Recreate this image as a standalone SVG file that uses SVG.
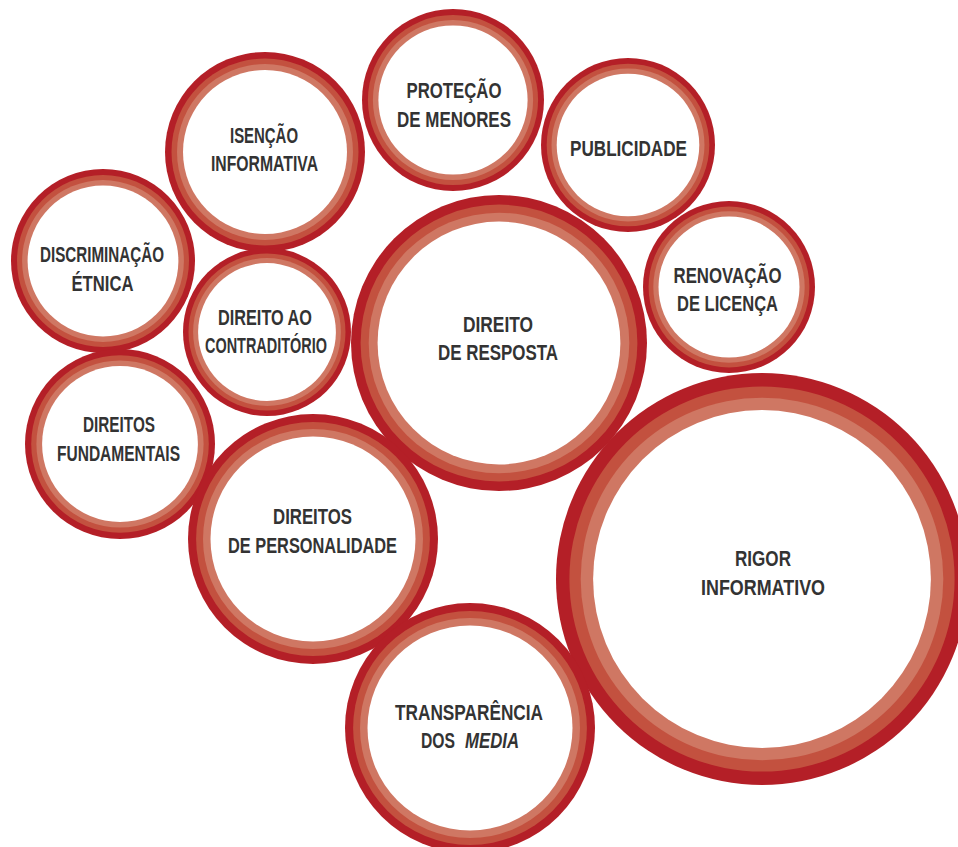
<svg xmlns="http://www.w3.org/2000/svg" width="958" height="847" viewBox="0 0 958 847">
  <style>
    .b1 { fill: #b41f27; }
    .b2 { fill: #c3513f; }
    .b3 { fill: #cf7763; }
    .in { fill: #ffffff; }
    text { font-family: "Liberation Sans Narrow", "Liberation Sans", Arial, sans-serif; font-weight: bold; font-size: 22px; fill: #333333; text-anchor: middle; }
    .st { text-anchor: start; }
    .it { font-style: italic; }
  </style>
  <rect width="958" height="847" fill="#ffffff"/>

  <!-- Each topic: three concentric bands around a white disc -->
  <g id="protecao-de-menores">
    <circle class="b1" cx="453" cy="100" r="91"/>
    <circle class="b2" cx="453" cy="100" r="85.1"/>
    <circle class="b3" cx="453" cy="100" r="80.1"/>
    <circle class="in" cx="453" cy="100" r="74.6"/>
    <text x="454" y="98" textLength="95" lengthAdjust="spacingAndGlyphs">PROTEÇÃO</text>
    <text x="454" y="127" textLength="114" lengthAdjust="spacingAndGlyphs">DE MENORES</text>
  </g>

  <g id="isencao-informativa">
    <circle class="b1" cx="265" cy="152" r="100"/>
    <circle class="b2" cx="265" cy="152" r="93.5"/>
    <circle class="b3" cx="265" cy="152" r="88"/>
    <circle class="in" cx="265" cy="152" r="82"/>
    <text x="264" y="143" textLength="68" lengthAdjust="spacingAndGlyphs">ISENÇÃO</text>
    <text x="264.5" y="171" textLength="107" lengthAdjust="spacingAndGlyphs">INFORMATIVA</text>
  </g>

  <g id="publicidade">
    <circle class="b1" cx="628" cy="145" r="87"/>
    <circle class="b2" cx="628" cy="145" r="81.3"/>
    <circle class="b3" cx="628" cy="145" r="76.5"/>
    <circle class="in" cx="628" cy="145" r="71.3"/>
    <text x="628.5" y="156" textLength="117" lengthAdjust="spacingAndGlyphs">PUBLICIDADE</text>
  </g>

  <g id="discriminacao-etnica">
    <circle class="b1" cx="103" cy="261" r="92"/>
    <circle class="b2" cx="103" cy="261" r="86"/>
    <circle class="b3" cx="103" cy="261" r="80.9"/>
    <circle class="in" cx="103" cy="261" r="75.4"/>
    <text x="102" y="262" textLength="124" lengthAdjust="spacingAndGlyphs">DISCRIMINAÇÃO</text>
    <text x="102.5" y="291" textLength="62" lengthAdjust="spacingAndGlyphs">ÉTNICA</text>
  </g>

  <g id="renovacao-de-licenca">
    <circle class="b1" cx="729" cy="287" r="86"/>
    <circle class="b2" cx="729" cy="287" r="80.4"/>
    <circle class="b3" cx="729" cy="287" r="75.7"/>
    <circle class="in" cx="729" cy="287" r="70.5"/>
    <text x="727.5" y="283" textLength="108" lengthAdjust="spacingAndGlyphs">RENOVAÇÃO</text>
    <text x="727.5" y="311" textLength="101" lengthAdjust="spacingAndGlyphs">DE LICENÇA</text>
  </g>

  <g id="direito-ao-contraditorio">
    <circle class="b1" cx="267" cy="332" r="84"/>
    <circle class="b2" cx="267" cy="332" r="78.5"/>
    <circle class="b3" cx="267" cy="332" r="73.9"/>
    <circle class="in" cx="267" cy="332" r="68.9"/>
    <text x="265" y="325" textLength="94" lengthAdjust="spacingAndGlyphs">DIREITO AO</text>
    <text x="266" y="353" textLength="122" lengthAdjust="spacingAndGlyphs">CONTRADITÓRIO</text>
  </g>

  <g id="direito-de-resposta">
    <circle class="b1" cx="499" cy="343" r="148"/>
    <circle class="b2" cx="499" cy="343" r="138.4"/>
    <circle class="b3" cx="499" cy="343" r="130.3"/>
    <circle class="in" cx="499" cy="343" r="121.4"/>
    <text x="498" y="332" textLength="70" lengthAdjust="spacingAndGlyphs">DIREITO</text>
    <text x="498" y="360" textLength="120" lengthAdjust="spacingAndGlyphs">DE RESPOSTA</text>
  </g>

  <g id="direitos-fundamentais">
    <circle class="b1" cx="120" cy="444" r="95"/>
    <circle class="b2" cx="120" cy="444" r="88.8"/>
    <circle class="b3" cx="120" cy="444" r="83.6"/>
    <circle class="in" cx="120" cy="444" r="77.9"/>
    <text x="119" y="432" textLength="72" lengthAdjust="spacingAndGlyphs">DIREITOS</text>
    <text x="118.5" y="461" textLength="123" lengthAdjust="spacingAndGlyphs">FUNDAMENTAIS</text>
  </g>

  <g id="direitos-de-personalidade">
    <circle class="b1" cx="313" cy="539" r="125"/>
    <circle class="b2" cx="313" cy="539" r="116.9"/>
    <circle class="b3" cx="313" cy="539" r="110"/>
    <circle class="in" cx="313" cy="539" r="102.5"/>
    <text x="312.5" y="524" textLength="79" lengthAdjust="spacingAndGlyphs">DIREITOS</text>
    <text x="312.5" y="553" textLength="169" lengthAdjust="spacingAndGlyphs">DE PERSONALIDADE</text>
  </g>

  <g id="rigor-informativo">
    <circle class="b1" cx="762" cy="579" r="206"/>
    <circle class="b2" cx="762" cy="579" r="192.6"/>
    <circle class="b3" cx="762" cy="579" r="181.3"/>
    <circle class="in" cx="762" cy="579" r="168.9"/>
    <text x="763" y="566" textLength="56" lengthAdjust="spacingAndGlyphs">RIGOR</text>
    <text x="763" y="595" textLength="124" lengthAdjust="spacingAndGlyphs">INFORMATIVO</text>
  </g>

  <g id="transparencia-dos-media">
    <circle class="b1" cx="470" cy="728" r="125"/>
    <circle class="b2" cx="470" cy="728" r="116.9"/>
    <circle class="b3" cx="470" cy="728" r="110"/>
    <circle class="in" cx="470" cy="728" r="102.5"/>
    <text x="469" y="720" textLength="148" lengthAdjust="spacingAndGlyphs">TRANSPARÊNCIA</text>
    <text class="st" x="421" y="748" textLength="34" lengthAdjust="spacingAndGlyphs">DOS</text>
    <text class="st it" x="465" y="748" textLength="54" lengthAdjust="spacingAndGlyphs">MEDIA</text>
  </g>

  <!-- no connectors: the topics only touch each other -->
  <g id="connectors"/>
</svg>
